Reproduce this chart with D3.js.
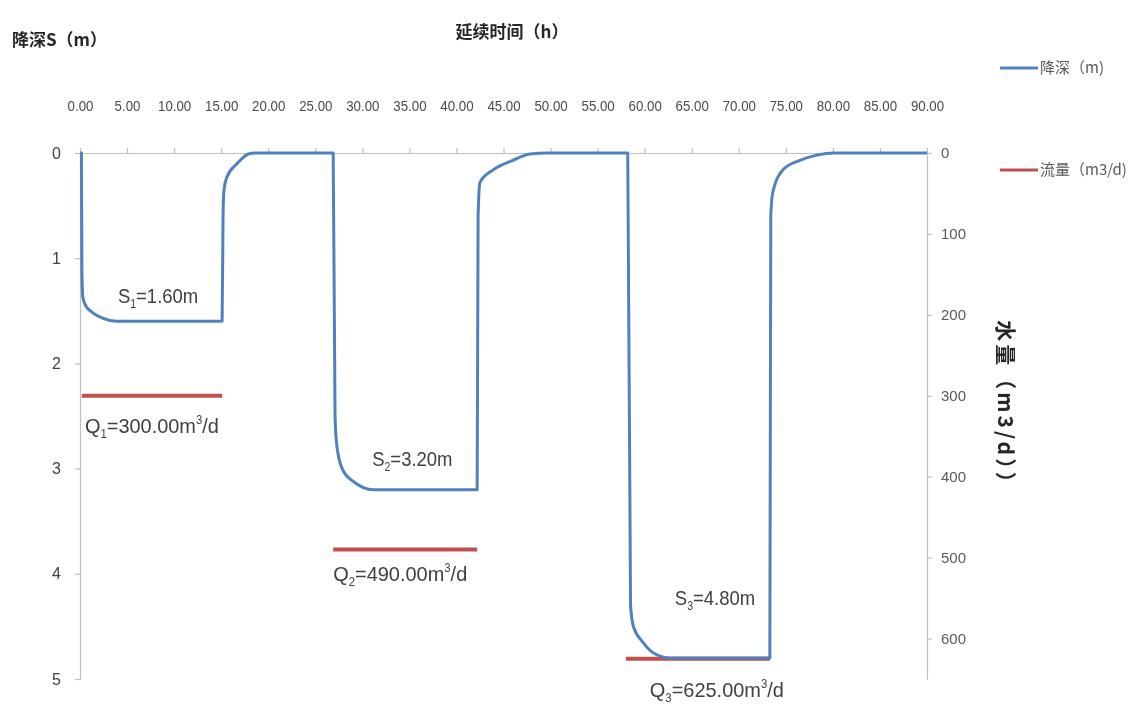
<!DOCTYPE html>
<html>
<head>
<meta charset="utf-8">
<script src="https://cdn.jsdelivr.net/npm/d3@7"></script>
<style>
  html, body { margin: 0; padding: 0; background: #fff; }
  svg { display: block; }
  .num { font-family: "Liberation Sans", "DejaVu Sans", sans-serif; }
  .cjk { font-family: "Noto Sans CJK SC", sans-serif; }
</style>
</head>
<body>
<svg id="chart" width="1138" height="706"></svg>
<script>
// Pumping-test record: drawdown (m) against elapsed time (h)
const timeH = [0, 0.15, 0.2, 0.3, 0.6, 1.1, 2.4, 3.9, 15.1, 15.2, 15.3, 15.6, 16.7, 17.9, 18.6,
  26.9, 27.1, 27.3, 27.9, 29.0, 30.1, 31.2, 42.2, 42.3, 42.5, 43.9, 46.0, 47.8, 49.6,
  58.2, 58.5, 58.8, 59.8, 60.9, 62.7, 73.3, 73.4, 73.6, 74.7, 76.5, 78.3, 80.1, 90];
const drawdownM = [0, 0, 1.1, 1.37, 1.45, 1.5, 1.57, 1.6, 1.6, 0.6, 0.35, 0.23, 0.1, 0.01, 0,
  0, 2.5, 2.79, 3.01, 3.12, 3.18, 3.2, 3.2, 0.6, 0.28, 0.16, 0.07, 0.01, 0,
  0, 4.3, 4.5, 4.65, 4.75, 4.8, 4.8, 0.6, 0.38, 0.16, 0.07, 0.02, 0, 0];

// Pumping rate for each step (m3/d) and the hours it ran
const flowStart = [0.2, 26.9, 58.0];
const flowEnd = [15.1, 42.2, 73.3];
const flowRate = [300, 490, 625];

// Stable drawdown reached in each step (m)
const stepDrawdown = [1.60, 3.20, 4.80];

// Axis ticks
const timeTicks = d3.range(0, 91, 5);
const depthTicks = [0, 1, 2, 3, 4, 5];
const rateTicks = [0, 100, 200, 300, 400, 500, 600];

const svg = d3.select("#chart");
const plot = { left: 80, right: 927, top: 153, bottom: 679 };

const x = d3.scaleLinear().domain([0, 90]).range([plot.left, plot.right]);
const yS = d3.scaleLinear().domain([0, 5]).range([plot.top, plot.bottom]);
const yQ = d3.scaleLinear().domain([0, 650]).range([plot.top, plot.bottom]);

const axisColor = "#bfbfbf";
const labelColor = "#595959";
const blue = "#4f81bd";
const red = "#c0504d";

// soft edges, as in the printed figure
const defs = svg.append("defs");
defs.append("filter").attr("id", "soft")
  .append("feGaussianBlur").attr("stdDeviation", 0.45);

const root = svg.append("g").attr("filter", "url(#soft)");

function styleAxis(g, size, color) {
  g.select(".domain").attr("stroke", axisColor).attr("stroke-width", 1.2);
  g.selectAll(".tick line").attr("stroke", axisColor).attr("stroke-width", 1.2);
  g.selectAll(".tick text").attr("fill", color).attr("class", "num").attr("font-size", size);
}

// Time axis along the top edge
root.append("g")
  .attr("transform", `translate(0,${plot.top})`)
  .call(d3.axisTop(x).tickValues(timeTicks).tickFormat(d3.format(".2f")).tickSize(5).tickSizeOuter(0).tickPadding(37))
  .call(g => styleAxis(g, 14, "#4a4a4a"))
  .call(g => g.selectAll(".tick text").attr("transform", "scale(0.95,1)"));

// Drawdown axis (left)
root.append("g")
  .attr("transform", `translate(${plot.left},0)`)
  .call(d3.axisLeft(yS).tickValues(depthTicks).tickFormat(d3.format("d")).tickSize(5).tickSizeOuter(0).tickPadding(14))
  .call(g => styleAxis(g, 16, "#404040"));

// Flow-rate axis (right)
root.append("g")
  .attr("transform", `translate(${plot.right},0)`)
  .call(d3.axisRight(yQ).tickValues(rateTicks).tickFormat(d3.format("d")).tickSize(5).tickSizeOuter(0).tickPadding(9))
  .call(g => styleAxis(g, 15, labelColor));

// Flow-rate steps
root.append("g").selectAll("line")
  .data(flowRate)
  .join("line")
  .attr("x1", (d, i) => x(flowStart[i]))
  .attr("x2", (d, i) => x(flowEnd[i]))
  .attr("y1", d => yQ(d))
  .attr("y2", d => yQ(d))
  .attr("stroke", red)
  .attr("stroke-width", 4);

// Drawdown curve
const pts = timeH.map((t, i) => [t, drawdownM[i]]);
root.append("path")
  .datum(pts)
  .attr("fill", "none")
  .attr("stroke", blue)
  .attr("stroke-width", 3)
  .attr("stroke-linejoin", "round")
  .attr("d", d3.line().x(d => x(d[0])).y(d => yS(d[1])).curve(d3.curveMonotoneX));

// Step annotations (condensed lettering)
const annColor = "#404040";
function annotate(px, py, sx, letter, sub, rest, sup, tail) {
  const t = root.append("text").attr("class", "num")
    .attr("transform", `translate(${px},${py}) scale(${sx},1)`)
    .attr("font-size", 21).attr("fill", annColor);
  t.append("tspan").text(letter);
  t.append("tspan").attr("font-size", 12).attr("dy", 5).text(sub);
  t.append("tspan").attr("dy", -5).text(rest);
  if (sup) {
    t.append("tspan").attr("font-size", 12).attr("dy", -9).text(sup);
    t.append("tspan").attr("dy", 9).text(tail);
  }
}
const fmt2 = d3.format(".2f");
const sDx = [36, 39, 49];
const sDy = [-18, -24, -53];
stepDrawdown.forEach((s, i) => {
  annotate(x(flowStart[i]) + sDx[i], yS(s) + sDy[i], 0.88, "S", String(i + 1), "=" + fmt2(s) + "m");
});
const qDx = [3, 0, 24];
const qDy = [37, 31, 38];
flowRate.forEach((q, i) => {
  annotate(x(flowStart[i]) + qDx[i], yQ(q) + qDy[i], 0.95, "Q", String(i + 1), "=" + fmt2(q) + "m", "3", "/d");
});

// Axis titles
root.append("text").attr("class", "cjk").attr("x", 12).attr("y", 46)
  .attr("font-size", 17).attr("font-weight", "bold").attr("fill", "#262626").text("降深S（m）");
root.append("text").attr("class", "cjk").attr("x", 512).attr("y", 38).attr("text-anchor", "middle")
  .attr("font-size", 17).attr("font-weight", "bold").attr("fill", "#262626").text("延续时间（h）");
root.append("text").attr("class", "cjk")
  .attr("transform", "translate(998,408) rotate(90)")
  .attr("text-anchor", "middle").attr("letter-spacing", 3)
  .attr("font-size", 21).attr("font-weight", "bold").attr("fill", "#262626").text("水量（m3/d））");

// Legend
const legend = [
  { name: "降深（m)", color: blue, y: 68 },
  { name: "流量（m3/d)", color: red, y: 170 }
];
const lg = root.append("g").selectAll("g").data(legend).join("g")
  .attr("transform", d => `translate(1000,${d.y})`);
lg.append("line").attr("x1", 0).attr("x2", 38).attr("stroke", d => d.color).attr("stroke-width", 3);
lg.append("text").attr("class", "cjk").attr("x", 40).attr("y", 5)
  .attr("font-size", 15).attr("fill", labelColor).text(d => d.name);
</script>
</body>
</html>
